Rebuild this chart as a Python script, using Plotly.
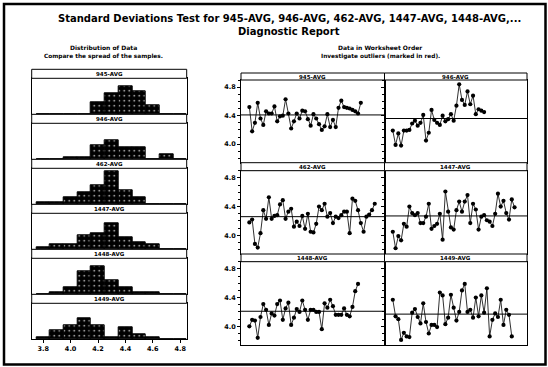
import plotly.graph_objects as go

W, H = 548, 367

# ---- data ---------------------------------------------------------------
sample_names = ["945-AVG", "946-AVG", "462-AVG", "1447-AVG", "1448-AVG", "1449-AVG"]

# histogram bin midpoints (bin width 0.1) and counts per sample
bin_mids = [3.8, 3.9, 4.0, 4.1, 4.2, 4.3, 4.4, 4.5, 4.6, 4.7, 4.8]
hist_945 = [0, 0, 0, 0, 5, 9, 12, 10, 4, 0, 0]
hist_946 = [0, 0, 1, 1, 6, 8, 5, 5, 0, 2, 0]
hist_462 = [1, 1, 3, 5, 8, 14, 6, 3, 0, 0, 0]
hist_1447 = [1, 2, 2, 6, 7, 11, 5, 3, 2, 0, 0]
hist_1448 = [0, 1, 3, 10, 12, 6, 3, 1, 1, 0, 0]
hist_1449 = [1, 4, 6, 9, 6, 1, 5, 2, 1, 0, 0]

# observations in worksheet order
ts_945 = [4.52, 4.18, 4.30, 4.58, 4.36, 4.27, 4.46, 4.43, 4.43, 4.53, 4.32, 4.39,
          4.40, 4.63, 4.43, 4.22, 4.32, 4.43, 4.36, 4.47, 4.46, 4.35, 4.26, 4.42,
          4.36, 4.28, 4.20, 4.25, 4.42, 4.24, 4.34, 4.24, 4.51, 4.61, 4.52, 4.51,
          4.50, 4.48, 4.46, 4.43, 4.58]
ts_946 = [4.19, 3.99, 4.15, 3.98, 4.19, 4.19, 4.20, 4.29, 4.33, 4.26, 4.30, 4.41,
          4.05, 4.16, 4.48, 4.34, 4.30, 4.27, 4.40, 4.32, 4.35, 4.42, 4.33, 4.54,
          4.84, 4.62, 4.55, 4.74, 4.56, 4.68, 4.42, 4.49, 4.47, 4.45]
ts_462 = [4.18, 4.22, 3.88, 3.83, 4.03, 4.35, 4.23, 4.53, 4.23, 4.27, 4.28, 4.43,
          4.49, 4.23, 4.33, 4.37, 4.12, 4.19, 4.13, 4.27, 4.09, 4.30, 4.05, 4.04,
          4.16, 4.40, 4.35, 4.44, 4.26, 4.31, 4.17, 4.26, 4.24, 4.28, 4.33, 4.33,
          4.03, 4.51, 4.48, 4.35, 4.17, 4.05, 4.26, 4.29, 4.35, 4.44]
ts_1447 = [4.05, 3.82, 3.99, 3.93, 4.16, 4.12, 4.40, 4.31, 4.28, 4.31, 4.17, 4.17,
           4.26, 4.44, 4.09, 4.13, 4.16, 4.30, 3.94, 4.61, 4.33, 4.11, 4.08, 4.35,
           4.47, 4.33, 4.47, 4.56, 4.17, 4.44, 4.36, 4.08, 4.26, 4.28, 4.21, 4.19,
           4.13, 4.30, 4.58, 4.40, 4.48, 4.31, 4.22, 4.50, 4.39]
ts_1448 = [4.00, 4.09, 4.08, 3.84, 4.13, 4.31, 4.23, 4.02, 4.18, 4.15, 4.31, 4.36,
           4.09, 4.25, 4.33, 4.02, 4.12, 4.24, 4.20, 4.36, 4.23, 4.09, 4.23, 4.23,
           4.20, 4.20, 3.96, 4.32, 4.26, 4.37, 4.28, 4.16, 4.16, 4.16, 4.25, 4.16,
           4.14, 4.27, 4.49, 4.59]
ts_1449 = [4.37, 4.14, 4.10, 3.81, 3.91, 3.86, 3.85, 4.19, 4.24, 4.13, 4.04, 4.32,
           4.06, 3.90, 4.02, 4.02, 3.99, 4.47, 4.43, 4.03, 4.12, 4.44, 4.26, 4.08,
           4.20, 4.50, 4.59, 4.20, 4.23, 4.12, 4.40, 4.14, 4.43, 4.19, 4.53, 3.86,
           4.09, 4.18, 4.13, 4.37, 4.02, 4.23, 4.16, 3.86]

# centre line of each worksheet-order panel
center_values = [4.41, 4.36, 4.26, 4.27, 4.21, 4.17]

hist_counts = [hist_945, hist_946, hist_462, hist_1447, hist_1448, hist_1449]
series = [ts_945, ts_946, ts_462, ts_1447, ts_1448, ts_1449]

x_tick_vals = [3.8, 4.0, 4.2, 4.4, 4.6, 4.8]
y_tick_vals = [4.0, 4.4, 4.8]

# ---- helpers ------------------------------------------------------------
def px(x):
    return x / W


def py(y):
    return 1 - y / H


FONT = "DejaVu Sans"
fig = go.Figure()
layout = {}
shapes = []
annotations = []


def strip(x0, x1, y0, y1, text, size=5.5):
    shapes.append(dict(type="rect", xref="paper", yref="paper",
                       x0=px(x0), x1=px(x1), y0=py(y1), y1=py(y0),
                       line=dict(color="black", width=1), fillcolor="white"))
    annotations.append(dict(x=px((x0 + x1) / 2), y=py((y0 + y1) / 2 + 0.5),
                            xref="paper", yref="paper", text=f"<b>{text}</b>",
                            showarrow=False, font=dict(family=FONT, size=size, color="black"),
                            xanchor="center", yanchor="middle"))


def axis_ids(n):
    return ("x" if n == 1 else f"x{n}", "y" if n == 1 else f"y{n}",
            "xaxis" if n == 1 else f"xaxis{n}", "yaxis" if n == 1 else f"yaxis{n}")


# ---- distribution panels (left) ------------------------------------------
hx0, hx1 = 31.7, 186.7
strip_h, step, first_top = 9.0, 45.0, 69.3
for k, name in enumerate(sample_names):
    xr, yr, xk, yk = axis_ids(k + 1)
    s_top = first_top + step * k
    p_top = s_top + strip_h
    p_bot = first_top + step * (k + 1)
    fig.add_trace(go.Bar(
        x=bin_mids, y=hist_counts[k], width=0.1, xaxis=xr, yaxis=yr,
        marker=dict(color="black", line=dict(color="black", width=1),
                    pattern=dict(shape=".", fgcolor="white", bgcolor="black", size=5,
                                 solidity=0.08, fillmode="replace")),
        showlegend=False, hoverinfo="skip"))
    last = k == len(sample_names) - 1
    layout[xk] = dict(domain=[px(hx0), px(hx1)], range=[3.716, 4.847], anchor=yr,
                      showline=True, mirror=True, linecolor="black", linewidth=1,
                      showgrid=False, zeroline=False,
                      ticks="outside" if last else "", ticklen=3, tickcolor="black",
                      showticklabels=last, tickvals=x_tick_vals,
                      ticktext=[f"<b>{v:.1f}</b>" for v in x_tick_vals],
                      tickfont=dict(family=FONT, size=6.5, color="black"))
    layout[yk] = dict(domain=[py(p_bot), py(p_top)], range=[0, 15.5], anchor=xr,
                      showline=True, mirror=True, linecolor="black", linewidth=1,
                      showgrid=False, zeroline=False, showticklabels=False, ticks="")
    strip(hx0, hx1, s_top, p_top, name)

# ---- worksheet-order panels (right) --------------------------------------
col_x = [(241.0, 384.5), (384.5, 527.0)]
row_plot = [(80.0, 162.7), (170.7, 254.0), (261.7, 345.0)]
row_strip = [(73.0, 80.0), (162.7, 170.7), (254.0, 261.7)]
for k, name in enumerate(sample_names):
    n = k + 7
    xr, yr, xk, yk = axis_ids(n)
    r, c = divmod(k, 2)
    x0, x1 = col_x[c]
    t, b = row_plot[r]
    vals = series[k]
    idx = list(range(1, len(vals) + 1))
    fig.add_trace(go.Scatter(
        x=idx, y=vals, mode="lines+markers", xaxis=xr, yaxis=yr,
        line=dict(color="#1a1a1a", width=0.9),
        marker=dict(color="black", size=4.2, symbol="circle"),
        showlegend=False, hoverinfo="skip"))
    layout[xk] = dict(domain=[px(x0), px(x1)], range=[-2, 49.5], anchor=yr,
                      showline=True, mirror=True, linecolor="black", linewidth=1,
                      showgrid=False, zeroline=False, showticklabels=False, ticks="")
    layout[yk] = dict(domain=[py(b), py(t)], range=[3.74, 4.9], anchor=xr,
                      showline=True, mirror=True, linecolor="black", linewidth=1,
                      showgrid=False, zeroline=False,
                      ticks="outside", ticklen=3, tickcolor="black",
                      tickvals=y_tick_vals,
                      ticktext=[f"<b>{v:.1f}</b>" for v in y_tick_vals],
                      showticklabels=(c == 0),
                      tickfont=dict(family=FONT, size=6.5, color="black"),
                      minor=dict(tickmode="linear", tick0=3.8, dtick=0.1,
                                 ticks="outside", ticklen=2, tickcolor="black"))
    shapes.append(dict(type="line", xref=f"{xr} domain", yref=yr, x0=0, x1=1,
                       y0=center_values[k], y1=center_values[k],
                       line=dict(color="black", width=1)))
    st, sb = row_strip[r]
    strip(x0, x1, st, sb, name)

# ---- titles ---------------------------------------------------------------
def label(x, y, text, size, bold=True):
    annotations.append(dict(x=px(x), y=py(y), xref="paper", yref="paper",
                            text=f"<b>{text}</b>" if bold else text, showarrow=False,
                            font=dict(family=FONT, size=size, color="black"),
                            xanchor="center", yanchor="middle"))


label(289, 19, "Standard Deviations Test for 945-AVG, 946-AVG, 462-AVG, 1447-AVG, 1448-AVG,...", 10)
label(289, 31, "Diagnostic Report", 10)
label(103, 48, "Distribution of Data", 6)
label(103, 56, "Compare the spread of the samples.", 5.8)
label(380, 48, "Data in Worksheet Order", 6)
label(380, 56, "Investigate outliers (marked in red).", 5.8)

# outer frame
shapes.append(dict(type="rect", xref="paper", yref="paper",
                   x0=px(4), x1=px(545.5), y0=py(364.5), y1=py(4),
                   line=dict(color="black", width=2.5), fillcolor="rgba(0,0,0,0)"))

fig.update_layout(
    width=W, height=H, margin=dict(l=0, r=0, t=0, b=0),
    paper_bgcolor="white", plot_bgcolor="white",
    bargap=0, showlegend=False,
    shapes=shapes, annotations=annotations,
    **layout,
)

fig.write_html("out.html")
